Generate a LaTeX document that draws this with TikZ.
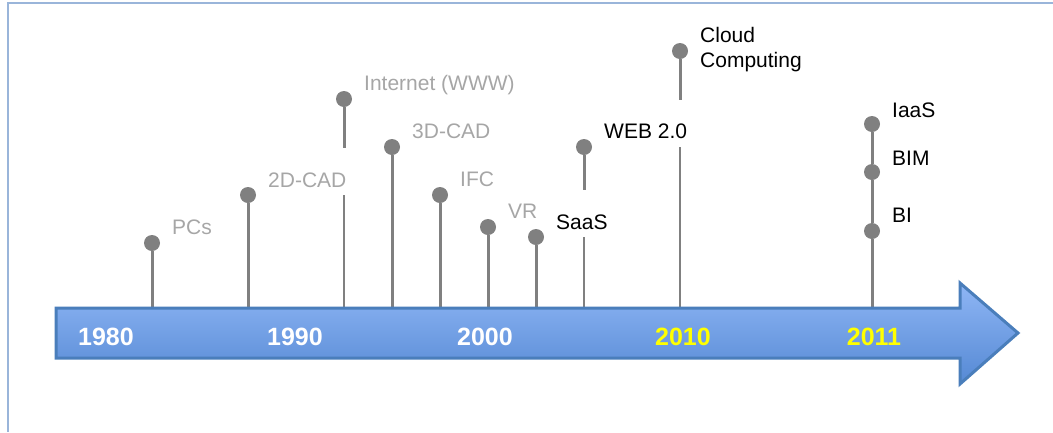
\documentclass[tikz,border=0pt]{standalone}
\usepackage{fontspec}
\setmainfont{Liberation Sans}
\definecolor{stemgray}{HTML}{808080}
\definecolor{labgray}{HTML}{A6A6A6}
\definecolor{arrowline}{HTML}{4A7EBB}
\definecolor{arrowtop}{HTML}{8FB6F5}
\definecolor{arrowbot}{HTML}{5589D4}
\definecolor{framecol}{HTML}{9AB5DA}
\definecolor{yearyellow}{HTML}{FFFF00}
\begin{document}
\begin{tikzpicture}[x=1pt,y=-1pt,
 dot/.style={circle,fill=stemgray,inner sep=0pt,minimum size=16pt},
 thickstem/.style={draw=stemgray,line width=3pt},
 thinstem/.style={draw=stemgray,line width=1.3pt},
 glabel/.style={anchor=base west,text=labgray,font=\fontsize{21}{25}\selectfont,inner sep=0pt},
 blabel/.style={glabel,text=black},
 year/.style={anchor=base,text=white,font=\fontsize{25}{30}\selectfont\bfseries,inner sep=0pt},
 frameline/.style={draw=framecol,line width=1.5pt},
 timearrow/.style={draw=arrowline,line width=3pt,top color=arrowtop,bottom color=arrowbot,line join=miter}
]
\useasboundingbox (0,0) rectangle (1053,432);
% frame
\coordinate (ftr) at (1053,3);
\coordinate (ftl) at (8,3);
\coordinate (fbl) at (8,432);
\draw[frameline] (ftr) -- (ftl) -- (fbl);

% event dots
\node[dot] (pcs) at (152,243) {};
\node[dot] (cad2) at (248,195) {};
\node[dot] (www) at (344,99) {};
\node[dot] (cad3) at (392,147) {};
\node[dot] (ifc) at (440,195) {};
\node[dot] (vr) at (488,227) {};
\node[dot] (saas) at (536,237) {};
\node[dot] (web) at (584,147) {};
\node[dot] (cloud) at (680,51) {};
\node[dot] (iaas) at (872,124) {};
\node[dot] (bim) at (872,172) {};
\node[dot] (bi) at (872,231) {};

% stem ends
\coordinate (pcsB) at (152,308);
\coordinate (cad2B) at (248,308);
\coordinate (wwwA) at (344,148);
\coordinate (wwwC) at (344,195);
\coordinate (wwwB) at (344,308);
\coordinate (cad3B) at (392,308);
\coordinate (ifcB) at (440,308);
\coordinate (vrB) at (488,308);
\coordinate (saasB) at (536,308);
\coordinate (webA) at (584,190);
\coordinate (webC) at (584,237);
\coordinate (webB) at (584,308);
\coordinate (cloudA) at (680,100);
\coordinate (cloudC) at (680,147);
\coordinate (cloudB) at (680,308);
\coordinate (biB) at (872,308);

\draw[thickstem] (pcs) -- (pcsB);
\draw[thickstem] (cad2) -- (cad2B);
\draw[thickstem] (www) -- (wwwA);
\draw[thinstem] (wwwC) -- (wwwB);
\draw[thickstem] (cad3) -- (cad3B);
\draw[thickstem] (ifc) -- (ifcB);
\draw[thickstem] (vr) -- (vrB);
\draw[thickstem] (saas) -- (saasB);
\draw[thickstem] (web) -- (webA);
\draw[thinstem] (webC) -- (webB);
\draw[thickstem] (cloud) -- (cloudA);
\draw[thinstem] (cloudC) -- (cloudB);
\draw[thickstem] (iaas) -- (bim) -- (bi) -- (biB);

% labels
\node[glabel] (lpcs) at (172,234) {PCs};
\node[glabel] (lcad2) at (268,187) {2D-CAD};
\node[glabel] (lwww) at (364,90) {Internet (WWW)};
\node[glabel] (lcad3) at (412,138) {3D-CAD};
\node[glabel] (lifc) at (460,186) {IFC};
\node[glabel] (lvr) at (508,218) {VR};
\node[blabel] (lsaas) at (556,229) {SaaS};
\node[blabel] (lweb) at (604,138) {WEB 2.0};
\node[blabel] (lcloud1) at (700,42) {Cloud};
\node[blabel] (lcloud2) at (700,67) {Computing};
\node[blabel] (liaas) at (892,117) {IaaS};
\node[blabel] (lbim) at (892,165) {BIM};
\node[blabel] (lbi) at (892,222) {BI};

% time arrow
\path[timearrow] (56,308) -- (960,308) -- (960,283) -- (1018,333) -- (960,384) -- (960,358) -- (56,358) -- cycle;

% years
\node[year] (y1980) at (106,345) {1980};
\node[year] (y1990) at (295,345) {1990};
\node[year] (y2000) at (485,345) {2000};
\node[year,text=yearyellow] (y2010) at (683,345) {2010};
\node[year,text=yearyellow] (y2011) at (874,345) {2011};
\end{tikzpicture}
\end{document}
